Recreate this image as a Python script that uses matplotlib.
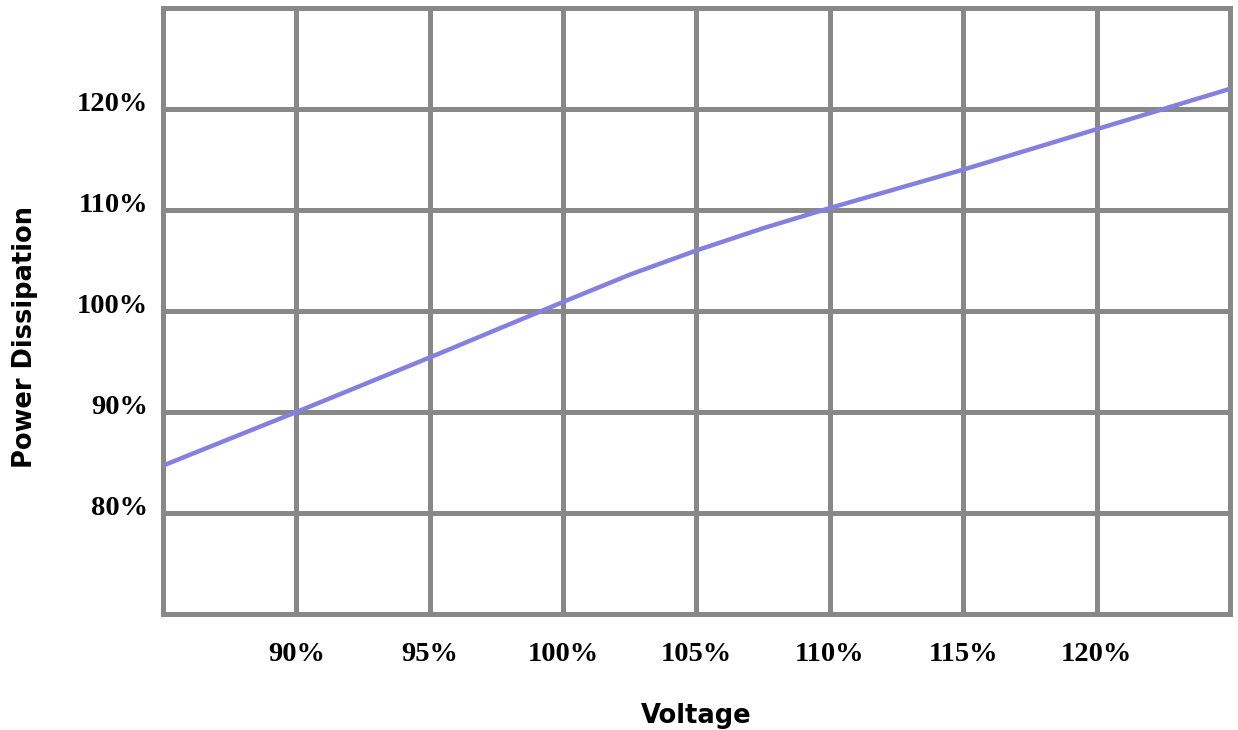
import matplotlib.pyplot as plt
import matplotlib.transforms as mtransforms

# curve
voltage = [85, 90, 95, 100, 102.5, 105, 107.5, 110, 115, 120, 125]
power = [84.7, 90.0, 95.4, 100.9, 103.6, 106.0, 108.2, 110.2, 114.0, 118.0, 122.0]

x_ticks = [85, 90, 95, 100, 105, 110, 115, 120, 125]
x_labels = ['', '90%', '95%', '100%', '105%', '110%', '115%', '120%', '']
y_ticks = [70, 80, 90, 100, 110, 120, 130]
y_labels = ['', '80%', '90%', '100%', '110%', '120%', '']

grid_col = '#888888'
line_col = '#8480e0'

fig = plt.figure(figsize=(12.38, 7.3), dpi=100)
ax = fig.add_axes([0.1317, 0.1589, 0.8618, 0.8301])

ax.plot(voltage, power, color=line_col, lw=3.2, solid_capstyle='butt', zorder=3)

ax.set_xlim(85, 125)
ax.set_ylim(70, 130)
ax.set_xticks(x_ticks)
ax.set_xticklabels(x_labels)
ax.set_yticks(y_ticks)
ax.set_yticklabels(y_labels)
ax.grid(True, color=grid_col, lw=3.6)
ax.set_axisbelow(True)
for s in ax.spines.values():
    s.set_color(grid_col)
    s.set_linewidth(3.6)

ax.tick_params(length=0, pad=11)
ax.tick_params(axis='x', pad=20)
for lab in ax.get_xticklabels() + ax.get_yticklabels():
    lab.set_fontfamily('Liberation Serif')
    lab.set_fontweight('bold')
    lab.set_fontsize(20.5)

# y labels sit a bit above their gridline
off = mtransforms.ScaledTranslation(0, 8 / 100, fig.dpi_scale_trans)
for lab in ax.get_yticklabels():
    lab.set_transform(lab.get_transform() + off)

ax.set_xlabel('Voltage', fontsize=18.5, fontweight='bold', labelpad=26)
ax.set_ylabel('Power Dissipation', fontsize=18.5, fontweight='bold')
ax.yaxis.set_label_coords(-0.117, 0.457)

fig.savefig('out.png', dpi=100)
